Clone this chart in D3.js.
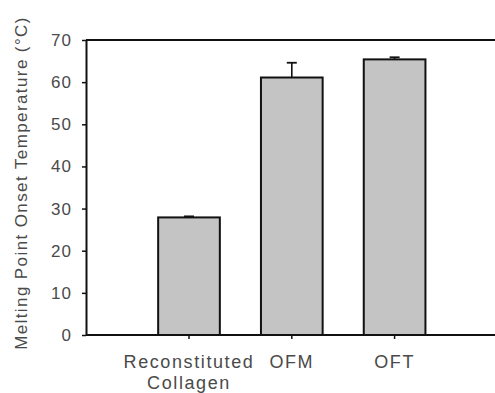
<!doctype html>
<html>
<head>
    <style>
        body { margin: 0; background: #fff; }
        svg { display: block; font-family: "Liberation Sans", Arial, sans-serif; }
        .lbl { fill: #4a4a4a; font-size: 17px; letter-spacing: 1px; }
        .xlbl { fill: #4a4a4a; font-size: 18px; letter-spacing: 1.6px; }
    </style>
    <script src="https://d3js.org/d3.v7.min.js"></script>
</head>
<body>
<svg width="495" height="393"></svg>
<script>
    // data
    var categories = ["Reconstituted Collagen", "OFM", "OFT"];
    var values = [27.9, 61.1, 65.4];
    var errors = [0.25, 3.5, 0.5];
    var yTicks = [0, 10, 20, 30, 40, 50, 60, 70];

    var svg = d3.select("svg"),
        plotLeft = 86, plotRight = 495, plotTop = 40, plotBottom = 335;

    var x = d3.scaleBand().domain(categories).range([137.6, 446]).paddingInner(0.4).paddingOuter(0.2);
    var y = d3.scaleLinear().domain([0, 70]).range([plotBottom, plotTop]);

    var data = categories.map(function(c, i) { return { cat: c, val: values[i], err: errors[i] }; });

    // bars
    svg.selectAll(".bar")
        .data(data)
        .enter().append("rect")
        .attr("x", function(d) { return x(d.cat); })
        .attr("y", function(d) { return y(d.val); })
        .attr("width", x.bandwidth())
        .attr("height", function(d) { return plotBottom - y(d.val); })
        .attr("fill", "#c4c4c4")
        .attr("stroke", "#111")
        .attr("stroke-width", 2);

    // error bars (upper only)
    var eb = svg.selectAll(".err").data(data).enter().append("g");
    eb.append("line")
        .attr("x1", function(d) { return x(d.cat) + x.bandwidth() / 2; })
        .attr("x2", function(d) { return x(d.cat) + x.bandwidth() / 2; })
        .attr("y1", function(d) { return y(d.val); })
        .attr("y2", function(d) { return y(d.val + d.err); })
        .attr("stroke", "#111").attr("stroke-width", 1.6);
    eb.append("line")
        .attr("x1", function(d) { return x(d.cat) + x.bandwidth() / 2 - 5; })
        .attr("x2", function(d) { return x(d.cat) + x.bandwidth() / 2 + 5; })
        .attr("y1", function(d) { return y(d.val + d.err); })
        .attr("y2", function(d) { return y(d.val + d.err); })
        .attr("stroke", "#111").attr("stroke-width", 1.8);

    // y axis
    var gy = svg.append("g")
        .attr("transform", "translate(" + plotLeft + ",0)")
        .call(d3.axisLeft(y).tickValues(yTicks).tickSize(4).tickSizeOuter(0).tickPadding(10));
    gy.select(".domain").attr("stroke", "#111").attr("stroke-width", 2);
    gy.selectAll(".tick line").attr("stroke", "#111").attr("stroke-width", 1.5);
    gy.selectAll(".tick text").attr("class", "lbl").attr("font-size", null).attr("font-family", null).attr("fill", null);

    // x axis
    var gx = svg.append("g")
        .attr("transform", "translate(0," + plotBottom + ")")
        .call(d3.axisBottom(x).tickSize(4).tickSizeOuter(0).tickFormat(""));
    gx.select(".domain").remove();
    gx.selectAll(".tick line").attr("stroke", "#111").attr("stroke-width", 1.5);
    gx.selectAll(".tick").each(function(d) {
        var words = d.split(" ");
        var t = d3.select(this).append("text")
            .attr("class", "xlbl")
            .attr("text-anchor", "middle")
            .attr("y", 33);
        words.forEach(function(w, i) {
            t.append("tspan").attr("x", 0).attr("dy", i === 0 ? 0 : 21).text(w);
        });
    });

    // frame lines: bottom and top
    svg.append("line").attr("x1", plotLeft).attr("x2", plotRight).attr("y1", plotBottom).attr("y2", plotBottom)
        .attr("stroke", "#111").attr("stroke-width", 2);
    svg.append("line").attr("x1", plotLeft).attr("x2", plotRight).attr("y1", y(70)).attr("y2", y(70))
        .attr("stroke", "#111").attr("stroke-width", 2);

    // y title
    svg.append("text")
        .attr("class", "lbl")
        .style("letter-spacing", "1.4px")
        .attr("transform", "translate(27,183) rotate(-90)")
        .attr("text-anchor", "middle")
        .text("Melting Point Onset Temperature (°C)");
</script>
</body>
</html>
